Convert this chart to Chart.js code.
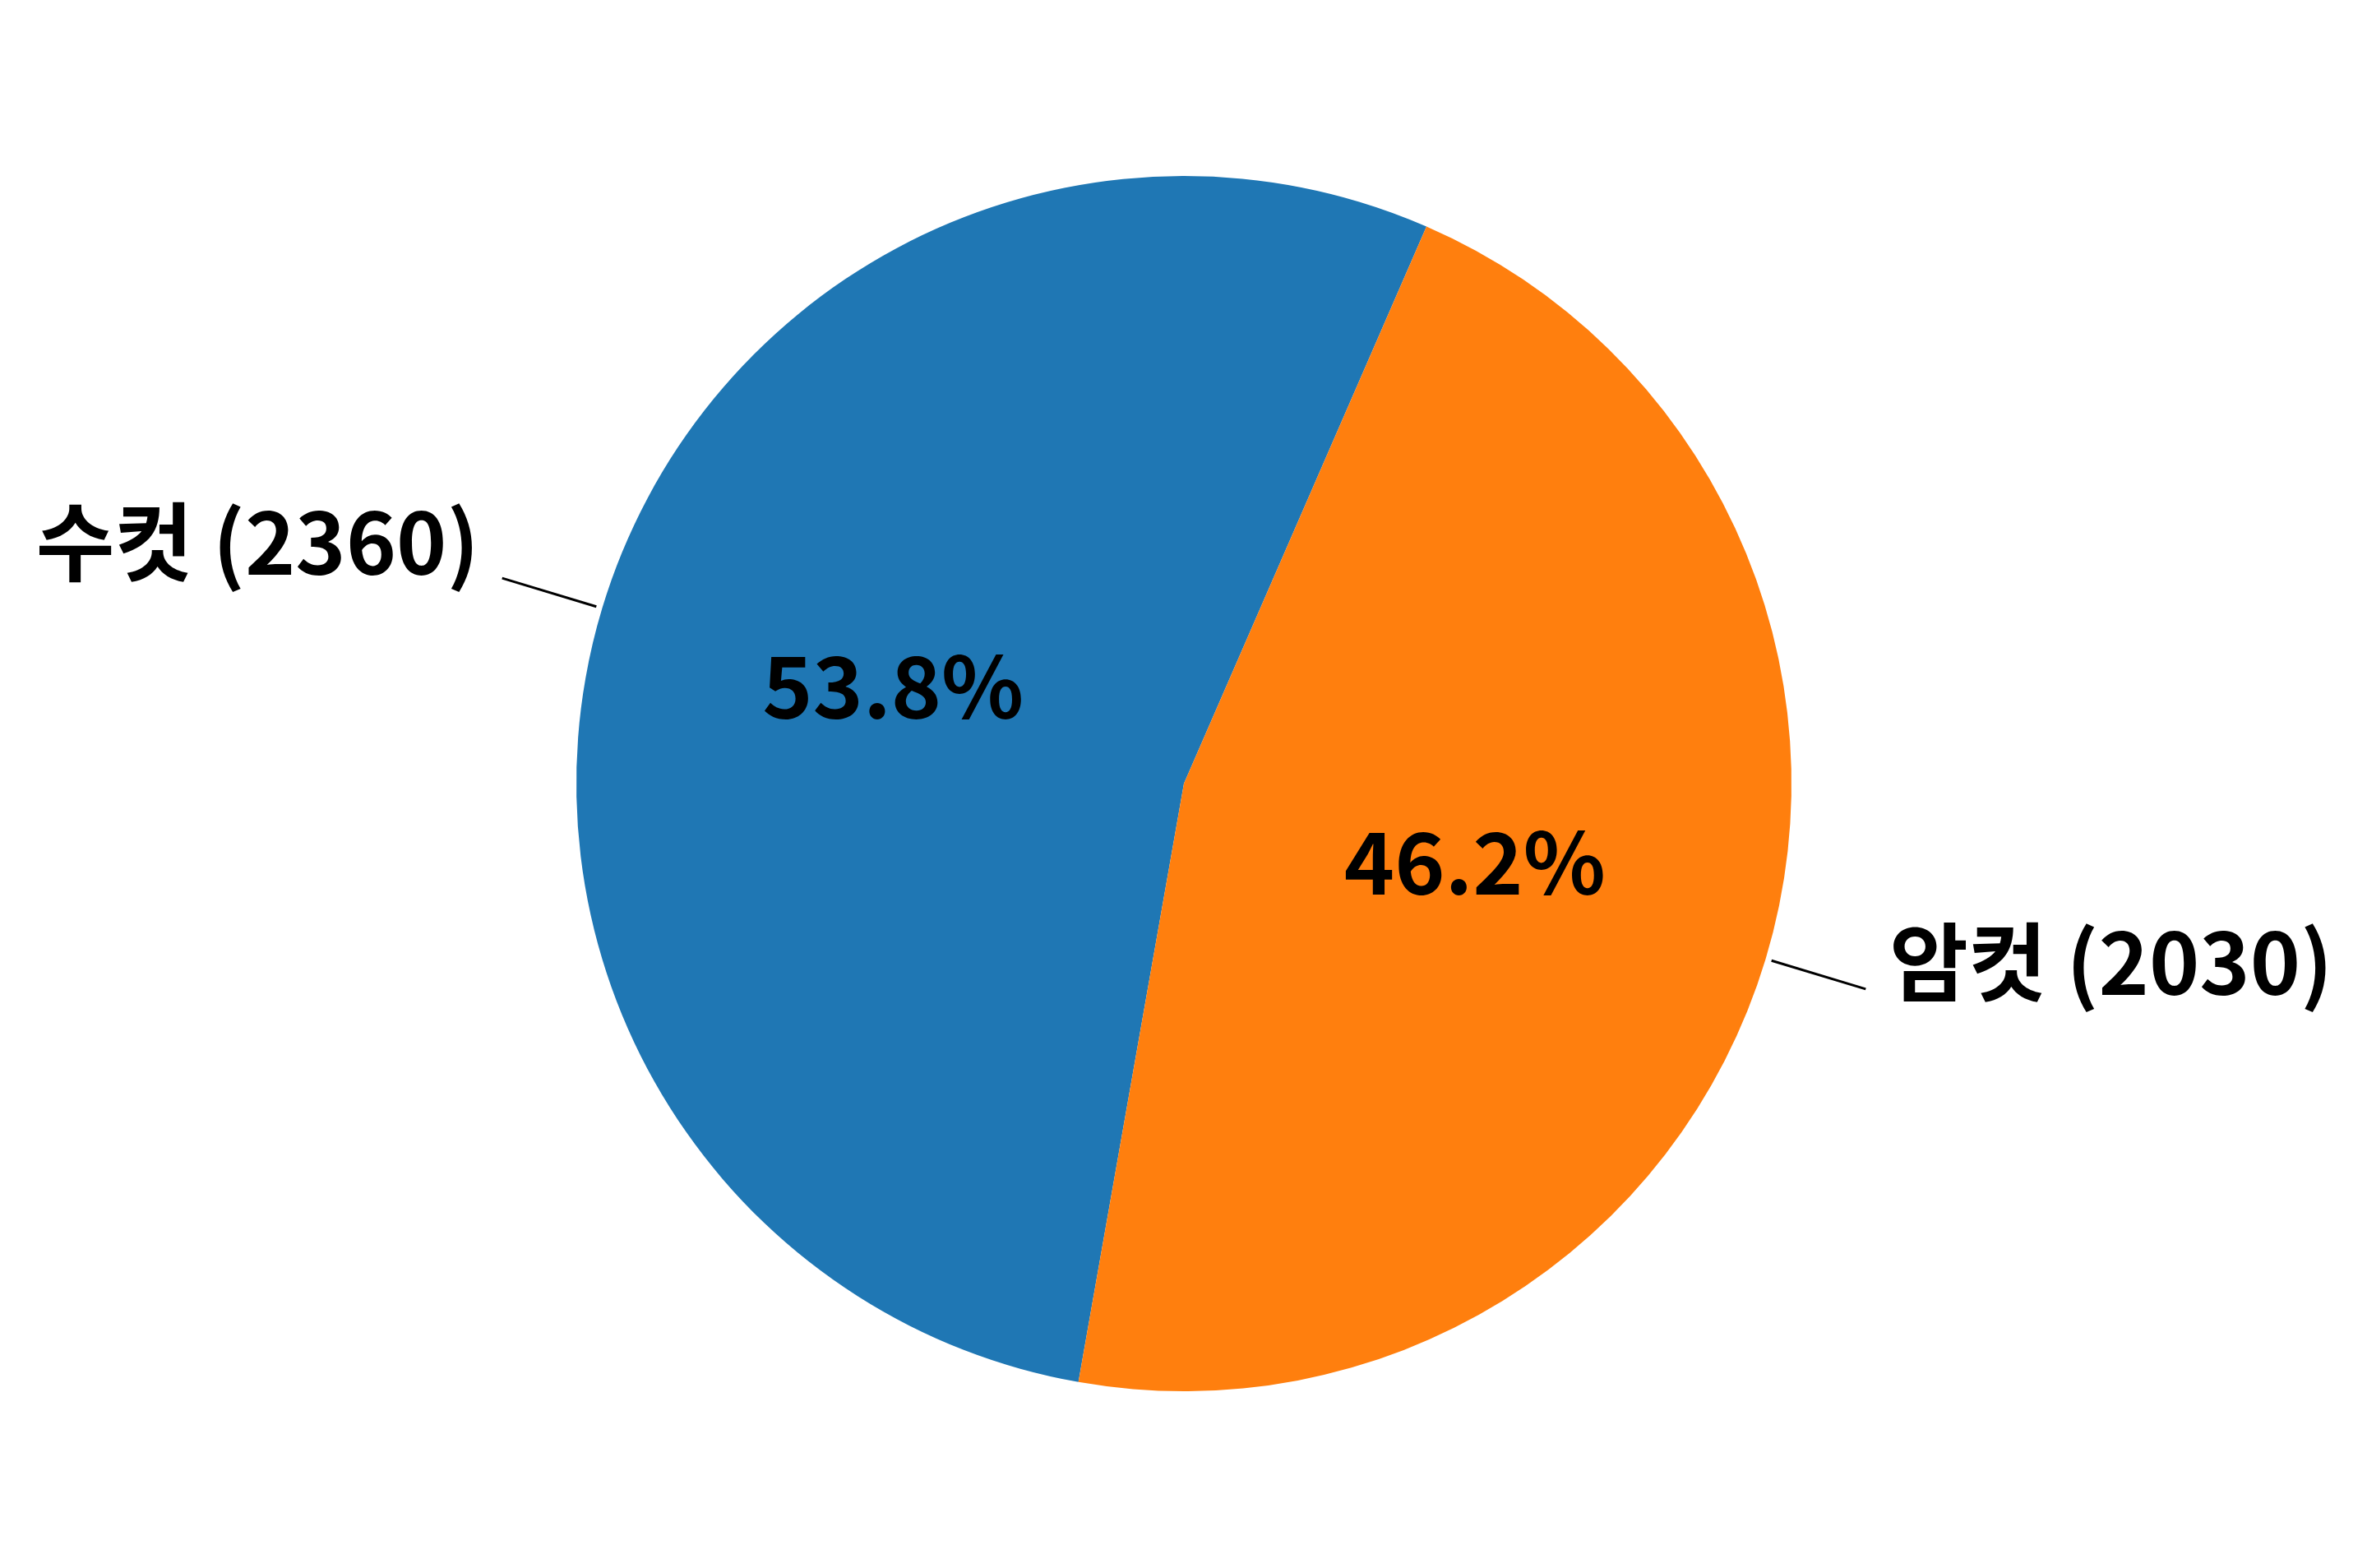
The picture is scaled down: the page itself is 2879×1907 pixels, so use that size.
<!DOCTYPE html>
<html>
<head>
<meta charset="utf-8">
<script src="https://cdn.jsdelivr.net/npm/chart.js@4/dist/chart.umd.min.js"></script>
<style>
  body { margin: 0; background: #fff; }
  canvas { display: block; }
</style>
</head>
<body>
<canvas id="pieChart" width="2879" height="1907"></canvas>
<script>
// data
const categories = ["수컷", "암컷"];
const counts = [2360, 2030];
const colors = ["#1f77b4", "#ff7f0e"];

const FONT = '"Noto Sans CJK KR", "Noto Sans", sans-serif';

// labels outside the pie with a short leader line, percent inside
const pieLabels = {
  id: "pieLabels",
  afterDatasetsDraw(chart) {
    const ctx = chart.ctx;
    const meta = chart.getDatasetMeta(0);
    const total = counts.reduce((a, b) => a + b, 0);
    // small baseline nudges per label (left, right)
    const nudge = [-4, 7];

    meta.data.forEach((arc, i) => {
      const p = arc.getProps(["x", "y", "startAngle", "endAngle", "outerRadius"], true);
      const mid = (p.startAngle + p.endAngle) / 2;
      const cx = Math.cos(mid), cy = Math.sin(mid);
      const r = p.outerRadius;

      ctx.save();
      ctx.fillStyle = "#000";
      ctx.font = "bold 104px " + FONT;

      // percent label
      const pct = ((counts[i] / total) * 100).toFixed(1) + "%";
      ctx.textAlign = "center";
      ctx.textBaseline = "alphabetic";
      ctx.fillText(pct, p.x + cx * r * 0.5, p.y + cy * r * 0.5 + 28);

      // leader line
      const x1 = p.x + cx * r * 1.01, y1 = p.y + cy * r * 1.01;
      const x2 = p.x + cx * r * 1.172, y2 = p.y + cy * r * 1.172;
      ctx.strokeStyle = "#000";
      ctx.lineWidth = 3;
      ctx.beginPath();
      ctx.moveTo(x1, y1);
      ctx.lineTo(x2, y2);
      ctx.stroke();

      // category label
      const right = cx >= 0;
      ctx.textAlign = right ? "left" : "right";
      ctx.fillText(
        categories[i] + " (" + counts[i] + ")",
        x2 + (right ? 29 : -28),
        y2 + nudge[i]
      );
      ctx.restore();
    });
  },
};

new Chart(document.getElementById("pieChart").getContext("2d"), {
  type: "pie",
  data: {
    labels: categories,
    datasets: [
      {
        data: counts,
        backgroundColor: colors,
        borderWidth: 0,
        hoverOffset: 0,
        offset: 0,
      },
    ],
  },
  options: {
    responsive: false,
    devicePixelRatio: 1,
    animation: false,
    rotation: 190.0,
    layout: {
      padding: { top: 214, bottom: 215, left: 701, right: 700 },
    },
    plugins: {
      legend: { display: false },
      tooltip: { enabled: false },
    },
  },
  plugins: [pieLabels],
});
</script>
</body>
</html>
